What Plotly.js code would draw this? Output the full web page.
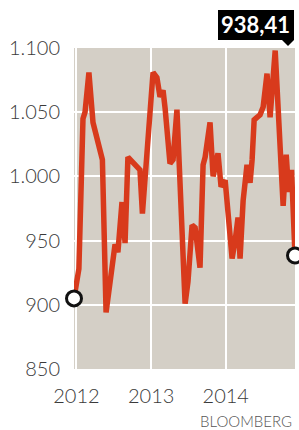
<!DOCTYPE html>
<html>
<head>
<meta charset="utf-8">
<script src="https://cdn.plot.ly/plotly-3.0.1.min.js"></script>
<style>
html,body{margin:0;padding:0;background:#fff;}
#chart{width:299px;height:430px;}
</style>
</head>
<body>
<div id="chart"></div>
<script>
const dates = [
  '2011-12-20','2012-01-13','2012-02-02','2012-02-12','2012-03-02','2012-03-22',
  '2012-05-07','2012-05-25','2012-07-08','2012-07-22','2012-08-11','2012-08-26',
  '2012-09-09','2012-11-07','2012-11-19','2013-01-10','2013-01-29','2013-02-13',
  '2013-02-28','2013-03-10','2013-04-03','2013-04-18','2013-05-07','2013-06-16',
  '2013-06-30','2013-07-20','2013-08-04','2013-08-28','2013-09-12','2013-09-22',
  '2013-10-16','2013-10-31','2013-11-24','2013-12-09','2013-12-29','2014-01-07',
  '2014-02-01','2014-02-16','2014-03-02','2014-03-12','2014-03-27','2014-04-15',
  '2014-04-30','2014-05-10','2014-05-20','2014-06-03','2014-06-18','2014-07-03',
  '2014-07-22','2014-08-06','2014-08-31','2014-10-09','2014-10-24','2014-11-05',
  '2014-11-19','2014-12-06'
];
const values = [
  905, 928, 1045, 1050, 1081, 1042,
  1013, 894, 947, 941, 980, 948,
  1015, 1005, 971, 1081, 1077, 1062,
  1067, 1053, 1010, 1013, 1052, 901,
  918, 962, 960, 929, 1009, 1015,
  1042, 1000, 1018, 992, 997, 982,
  936, 950, 968, 936, 981, 1009,
  995, 1013, 1044, 1046, 1048, 1054,
  1080, 1046, 1098, 977, 1017, 988,
  1005, 938.41
];
const yTicks = [850, 900, 950, 1000, 1050, 1100];
const lastLabel = '938,41';
const source = 'BLOOMBERG';

const n = dates.length;
const font = 'Lato, "Open Sans", sans-serif';

const traces = [
  {
    x: dates, y: values, type: 'scatter', mode: 'lines',
    line: {color: '#d83a1c', width: 5.5, shape: 'linear'},
    hoverinfo: 'skip'
  },
  {
    x: [dates[0], dates[n-1]], y: [values[0], values[n-1]],
    type: 'scatter', mode: 'markers', cliponaxis: false,
    marker: {size: 15, color: '#ffffff', line: {color: '#111111', width: 3}},
    hoverinfo: 'skip'
  }
];

const layout = {
  width: 299, height: 430,
  margin: {l: 74, r: 4, t: 48, b: 61, pad: 0},
  paper_bgcolor: '#ffffff',
  plot_bgcolor: '#d4cfc6',
  showlegend: false,
  separators: ',.',
  xaxis: {
    type: 'date',
    range: ['2011-12-20', '2014-12-06'],
    tickvals: ['2012-01-01', '2013-01-01', '2014-01-01'],
    ticktext: ['2012', '2013', '2014'],
    showgrid: true, gridcolor: '#ffffff', gridwidth: 2,
    zeroline: false, showline: false,
    ticks: 'outside', ticklen: 9, tickcolor: 'rgba(0,0,0,0)',
    tickfont: {family: font, size: 20, color: '#3a3a3a', weight: 300}
  },
  yaxis: {
    range: [850, 1100],
    tickvals: yTicks,
    separatethousands: true,
    showgrid: true, gridcolor: '#ffffff', gridwidth: 2,
    zeroline: false, showline: false,
    ticks: 'outside', ticklen: 9, tickcolor: 'rgba(0,0,0,0)',
    tickfont: {family: font, size: 20, color: '#3a3a3a', weight: 300}
  },
  shapes: [
    {type: 'rect', xref: 'paper', yref: 'paper',
     x0: 0.6516, x1: 0.9955, y0: 1.0249, y1: 1.1184,
     fillcolor: '#000000', line: {width: 0}, layer: 'above'},
    {type: 'path', xref: 'paper', yref: 'paper',
     path: 'M0.9412,1.0249 L0.9955,1.0249 L0.9683,1.0062 Z',
     fillcolor: '#000000', line: {width: 0}, layer: 'above'}
  ],
  annotations: [
    {xref: 'paper', yref: 'paper', x: 0.8235, y: 1.0717,
     xanchor: 'center', yanchor: 'middle', showarrow: false,
     text: '<b>' + lastLabel + '</b>',
     font: {family: font, size: 22, color: '#ffffff'}},
    {xref: 'paper', yref: 'paper', x: 0.9955, y: -0.163,
     xanchor: 'right', yanchor: 'middle', showarrow: false,
     text: source,
     font: {family: font, size: 15, color: '#555555', weight: 300}}
  ]
};

Plotly.newPlot('chart', traces, layout, {staticPlot: true, displayModeBar: false});
</script>
</body>
</html>
